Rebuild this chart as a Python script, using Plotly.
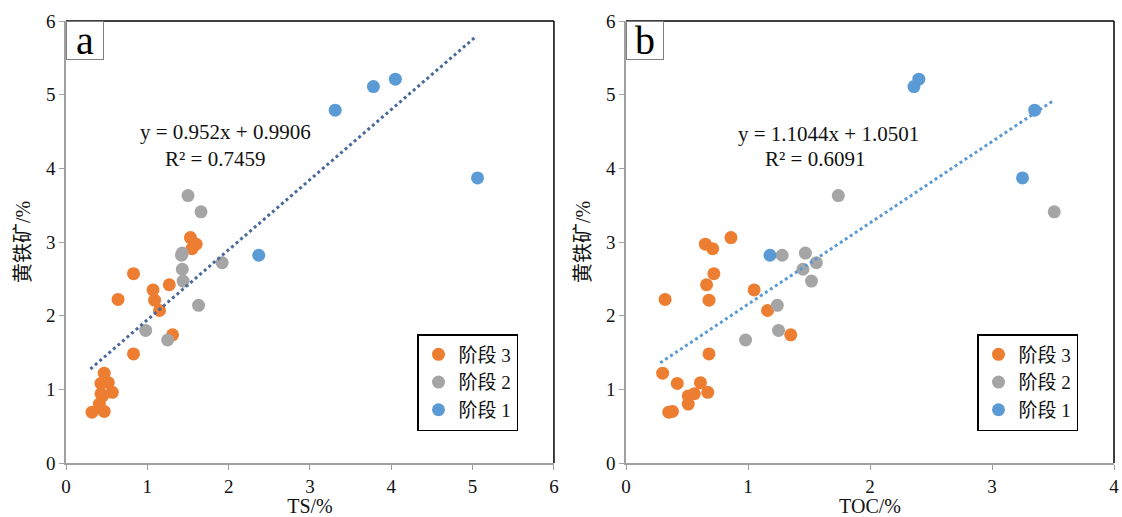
import plotly.graph_objects as go

# ---------------- data ----------------
stages = ["阶段 3", "阶段 2", "阶段 1"]
colors = ["#ED7D31", "#A5A5A5", "#5B9BD5"]

# pyrite (%) per stage (same samples in both panels)
pyrite_s3 = [3.06, 2.97, 2.91, 2.57, 2.42, 2.35, 2.22, 2.21, 2.07, 1.74,
             1.48, 1.22, 1.08, 1.09, 0.94, 0.91, 0.96, 0.80, 0.69, 0.70]
pyrite_s2 = [3.63, 3.41, 2.82, 2.85, 2.72, 2.63, 2.47, 2.14, 1.80, 1.67]
pyrite_s1 = [5.21, 5.11, 4.79, 3.87, 2.82]

# TS (%)
ts_s3 = [1.53, 1.60, 1.55, 0.83, 1.27, 1.07, 0.64, 1.09, 1.15, 1.31,
         0.83, 0.47, 0.43, 0.52, 0.43, 0.45, 0.57, 0.41, 0.32, 0.47]
ts_s2 = [1.50, 1.66, 1.42, 1.43, 1.92, 1.43, 1.44, 1.63, 0.98, 1.25]
ts_s1 = [4.05, 3.78, 3.31, 5.06, 2.37]

# TOC (%)
toc_s3 = [0.86, 0.65, 0.71, 0.72, 0.66, 1.05, 0.32, 0.68, 1.16, 1.35,
          0.68, 0.30, 0.42, 0.61, 0.56, 0.51, 0.67, 0.51, 0.35, 0.38]
toc_s2 = [1.74, 3.51, 1.28, 1.47, 1.56, 1.45, 1.52, 1.24, 1.25, 0.98]
toc_s1 = [2.40, 2.36, 3.35, 3.25, 1.18]

# trendlines (Excel linear fits as printed on the chart)
trend_a = {"slope": 0.952, "intercept": 0.9906, "x": [0.30, 5.05]}
trend_b = {"slope": 1.1044, "intercept": 1.0501, "x": [0.28, 3.50]}
eq_a = ["y = 0.952x + 0.9906", "R² = 0.7459"]
eq_b = ["y = 1.1044x + 1.0501", "R² = 0.6091"]

FONT = "'Liberation Serif', 'Times New Roman', 'Noto Sans CJK SC', serif"
fig = go.Figure()

ys = [pyrite_s3, pyrite_s2, pyrite_s1]
for i, (st, c) in enumerate(zip(stages, colors)):
    fig.add_trace(go.Scatter(x=[ts_s3, ts_s2, ts_s1][i], y=ys[i], mode="markers",
                             name=st, marker=dict(color=c, size=13),
                             xaxis="x", yaxis="y", legend="legend"))
for i, (st, c) in enumerate(zip(stages, colors)):
    fig.add_trace(go.Scatter(x=[toc_s3, toc_s2, toc_s1][i], y=ys[i], mode="markers",
                             name=st, marker=dict(color=c, size=13),
                             xaxis="x2", yaxis="y2", legend="legend2"))

for tr, ax, col in [(trend_a, ("x", "y"), "#4A6A9A"), (trend_b, ("x2", "y2"), "#5B9BD5")]:
    yy = [tr["slope"] * v + tr["intercept"] for v in tr["x"]]
    fig.add_trace(go.Scatter(x=tr["x"], y=yy, mode="lines", showlegend=False,
                             line=dict(color=col, width=3, dash="dot"),
                             xaxis=ax[0], yaxis=ax[1], hoverinfo="skip"))

axis_common = dict(showline=True, linecolor="#A0A0A0", linewidth=1.5,
                   ticks="outside", ticklen=5, tickcolor="#A0A0A0",
                   showgrid=False, zeroline=False, automargin=False,
                   tickfont=dict(family=FONT, size=19, color="#111"))
title_font = dict(family=FONT, size=20, color="#111")

leg_common = dict(xanchor="left", yanchor="bottom", xref="paper", yref="paper",
                  bordercolor="black", borderwidth=1.5, bgcolor="white",
                  font=dict(family=FONT, size=19, color="#111"),
                  itemwidth=30, tracegroupgap=0)

fig.update_layout(
    width=1122, height=517,
    margin=dict(l=66, r=8, t=21, b=54, autoexpand=False),
    paper_bgcolor="white", plot_bgcolor="white",
    xaxis=dict(domain=[0, 0.4656], range=[0, 6], dtick=1, anchor="y",
               title=dict(text="TS/%", font=title_font, standoff=0), **axis_common),
    yaxis=dict(domain=[0, 1], range=[0, 6], dtick=1, anchor="x",
               title=dict(text="黄铁矿/%", font=title_font, standoff=10), **axis_common),
    xaxis2=dict(domain=[0.5344, 1], range=[0, 4], dtick=1, anchor="y2",
                title=dict(text="TOC/%", font=title_font, standoff=0), **axis_common),
    yaxis2=dict(domain=[0, 1], range=[0, 6], dtick=1, anchor="x2",
                title=dict(text="黄铁矿/%", font=title_font, standoff=10), **axis_common),
    legend=dict(x=(417 - 66) / 1048, y=(463 - 431) / 442, **leg_common),
    legend2=dict(x=(977 - 66) / 1048, y=(463 - 431) / 442, **leg_common),
    showlegend=True,
)

# black top / right frame lines
for xr, yr in [("x domain", "y domain"), ("x2 domain", "y2 domain")]:
    fig.add_shape(type="line", xref=xr, yref=yr, x0=0, x1=1, y0=1, y1=1,
                  line=dict(color="black", width=1.5))
    fig.add_shape(type="line", xref=xr, yref=yr, x0=1, x1=1, y0=0, y1=1,
                  line=dict(color="black", width=1.5))

# panel labels
for xr, yr, lab in [("x domain", "y domain", "a"), ("x2 domain", "y2 domain", "b")]:
    fig.add_annotation(xref=xr, yref=yr, x=0, y=1, xanchor="left", yanchor="top",
                       text=lab, showarrow=False,
                       font=dict(family=FONT, size=40, color="black"),
                       bordercolor="#808080", borderwidth=1, borderpad=0,
                       bgcolor="white", width=36, height=37)

# equation annotations
for (xa, ya), eq, pos in [(("x", "y"), eq_a, [(1.96, 4.49), (1.83, 4.13)]),
                          (("x2", "y2"), eq_b, [(1.66, 4.47), (1.55, 4.12)])]:
    for txt, (px, py) in zip(eq, pos):
        fig.add_annotation(xref=xa, yref=ya, x=px, y=py, text=txt, showarrow=False,
                           font=dict(family=FONT, size=21, color="#111"))

fig.write_html("out.html", config={"displayModeBar": False})

# remove the browser's default page margin so the figure sits at (0, 0)
with open("out.html", "r", encoding="utf-8") as f:
    html = f.read()
html = html.replace("<head>", "<head><style>html,body{margin:0;padding:0;overflow:hidden;}</style>", 1)
with open("out.html", "w", encoding="utf-8") as f:
    f.write(html)
